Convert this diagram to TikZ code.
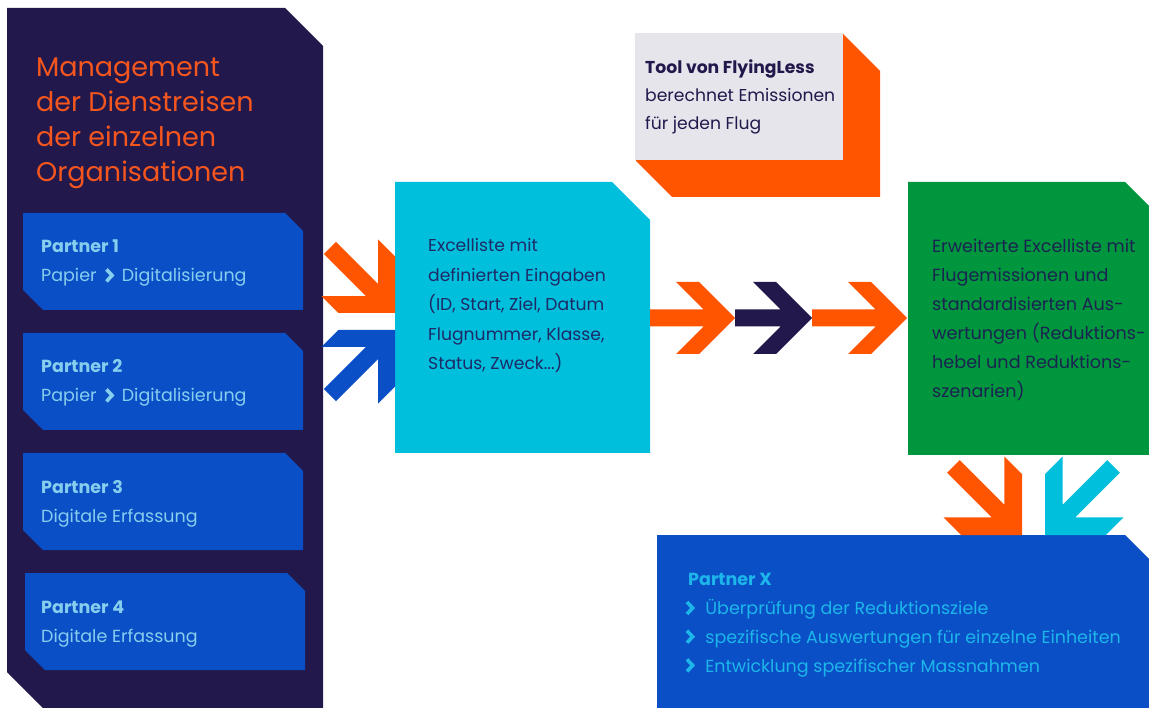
\documentclass[tikz,border=0pt]{standalone}
\usepackage{fontspec}
\setmainfont{Poppins}
\definecolor{panel}{HTML}{22184B}
\definecolor{pblue}{HTML}{0B4FC6}
\definecolor{pcyan}{HTML}{00BFDD}
\definecolor{pgreen}{HTML}{00963E}
\definecolor{porange}{HTML}{FF5500}
\definecolor{tgrey}{HTML}{E7E5EC}
\definecolor{titleorange}{HTML}{F5561E}
\definecolor{ltext}{HTML}{86CEEE}
\definecolor{xtext}{HTML}{1CB6EA}
\definecolor{dtext}{HTML}{1E2A66}
\definecolor{gtext}{HTML}{1B2450}
\newcommand{\chev}[1]{\tikz[baseline=0pt]\draw[#1,line width=3.6pt,line join=miter,miter limit=10,line cap=butt](0pt,0.6pt)--(5.6pt,6.6pt)--(0pt,12.6pt);}
\tikzset{
  pics/chevarrow/.style n args={5}{code={
    \fill[#5] (0,0) -- (-#2,#2) -- (-#2-#3,#2) -- (-#3-#4,#4) -- (-#1,#4)
      -- (-#1,-#4) -- (-#3-#4,-#4) -- (-#2-#3,-#2) -- (-#2,-#2) -- cycle;}},
  pics/partnerbox/.style={code={
    \fill[pblue] (0,0) -- (262,0) -- (280,18) -- (280,97) -- (20,97) -- (0,77) -- cycle;}},
  txt/.style={anchor=base west, inner sep=0pt, align=left},
  ptext/.style={txt, text=ltext, font=\fontsize{17.5}{29}\selectfont},
}
\begin{document}
\begin{tikzpicture}[x=1pt,y=-1pt]
\useasboundingbox[fill=white] (0,0) rectangle (1149,708);
% left panel
\fill[panel] (7,8) -- (285,8) -- (323,46) -- (323,708) -- (43,708) -- (7,672) -- cycle;
\node[txt, text=titleorange, font=\fontsize{27}{35}\selectfont] (title) at (36,182)
  {Management\\der Dienstreisen\\der einzelnen\\Organisationen};
% partner boxes
\pic at (23,213) {partnerbox};
\pic at (23,333) {partnerbox};
\pic at (23,453) {partnerbox};
\pic at (25,573) {partnerbox};
\node[ptext] (p1) at (41,282) {\textbf{Partner 1}\\Papier\hspace{8pt}\chev{ltext}\hspace{8pt}Digitalisierung};
\node[ptext] (p2) at (41,402) {\textbf{Partner 2}\\Papier\hspace{8pt}\chev{ltext}\hspace{8pt}Digitalisierung};
\node[ptext] (p3) at (41,522) {\textbf{Partner 3}\\Digitale Erfassung};
\node[ptext] (p4) at (41,642) {\textbf{Partner 4}\\Digitale Erfassung};
% tool box
\fill[porange] (636,34) -- (843,34) -- (880,71) -- (880,197) -- (672,197) -- (636,161) -- cycle;
\fill[tgrey] (635,33) rectangle (843,160);
\node[txt, text=panel, font=\fontsize{17.2}{28}\selectfont] (tool) at (645,130)
  {\textbf{Tool von FlyingLess}\\berechnet Emissionen\\für jeden Flug};
% cyan box
\fill[pcyan] (395,182) -- (612,182) -- (650,220) -- (650,453) -- (395,453) -- cycle;
\node[txt, text=dtext, font=\fontsize{17.2}{29.4}\selectfont] (excel) at (428,369.6)
  {Excelliste mit\\definierten Eingaben\\(ID, Start, Ziel, Datum\\Flugnummer, Klasse,\\Status, Zweck...)};
% green box
\fill[pgreen] (908,182) -- (1125,182) -- (1149,206) -- (1149,455) -- (908,455) -- cycle;
\node[txt, text=gtext, font=\fontsize{17.6}{29}\selectfont] (erw) at (932,398)
  {Erweiterte Excelliste mit\\Flugemissionen und\\standardisierten Aus-\\wertungen (Reduktions-\\hebel und Reduktions-\\szenarien)};
% partner X box
\fill[pblue] (657,535) -- (1125,535) -- (1149,559) -- (1149,708) -- (657,708) -- cycle;
\node[txt, text=xtext, font=\fontsize{17.5}{28.7}\selectfont] (px) at (685,672)
  {\hspace{3pt}\textbf{Partner X}\\
   \chev{xtext}\hspace{11pt}Überprüfung der Reduktionsziele\\
   \chev{xtext}\hspace{11pt}spezifische Auswertungen für einzelne Einheiten\\
   \chev{xtext}\hspace{11pt}Entwicklung spezifischer Massnahmen};
% arrows
\pic at (395,313) [rotate=-45] {chevarrow={92}{40}{24}{8.5}{porange}};
\pic at (395,330) [rotate=45] {chevarrow={92}{40}{24}{8.5}{pblue}};
\pic at (735,318) {chevarrow={85}{36}{23}{8.5}{porange}};
\pic at (812,318) {chevarrow={77}{36}{23}{8.5}{panel}};
\pic at (907,318) {chevarrow={95}{36}{23}{8.5}{porange}};
\pic at (1022,535) [rotate=-45] {chevarrow={97}{43}{25}{9}{porange}};
\pic at (1045,535) [rotate=-135] {chevarrow={97}{43}{25}{9}{pcyan}};
\end{tikzpicture}
\end{document}
